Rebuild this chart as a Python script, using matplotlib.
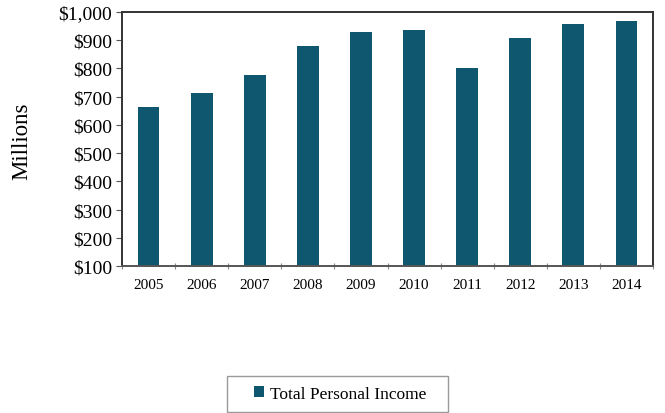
import numpy as np
import matplotlib.pyplot as plt
from matplotlib.ticker import FuncFormatter
from matplotlib.patches import Rectangle

plt.rcParams['font.family'] = ['Liberation Serif', 'DejaVu Serif']

years = ["2005", "2006", "2007", "2008", "2009", "2010", "2011", "2012", "2013", "2014"]
income = [663, 713, 777, 880, 928, 935, 800, 909, 956, 969]  # millions of dollars

W, H = 665, 414
fig = plt.figure(figsize=(W / 100, H / 100), dpi=100)
ax = fig.add_axes([122 / W, 1 - 267 / H, (653 - 122) / W, (267 - 13) / H])

x = np.arange(len(years))
ax.bar(x, income, width=0.41, color="#0f566f", label="Total Personal Income", zorder=2)

ax.set_xlim(-0.5, len(years) - 0.5)
ax.set_ylim(100, 1000)
ax.set_yticks(np.arange(100, 1001, 100))
ax.yaxis.set_major_formatter(FuncFormatter(lambda v, p: "${:,.0f}".format(v)))
ax.tick_params(axis="y", labelsize=14, length=4, width=0.8, color="#555555", pad=3)

ax.set_xticks(x)
ax.set_xticklabels(years)
ax.set_xticks(np.arange(-0.5, len(years), 1), minor=True)
ax.tick_params(axis="x", which="major", length=0, labelsize=11, pad=9)
ax.tick_params(axis="x", which="minor", length=4, width=0.8, color="#888888", direction="inout")

for s in ax.spines.values():
    s.set_color("#333333")
    s.set_linewidth(1.4)
ax.spines["bottom"].set_color("#555555")

fig.text(22 / W, 1 - 141 / H, "Millions", rotation=90, fontsize=16.5, ha="center", va="center")

# legend box drawn separately to get the wide, flat frame
fig.patches.append(Rectangle((227 / W, 1 - 413 / H), (448 - 227) / W, (413 - 377) / H,
                             transform=fig.transFigure, facecolor="white",
                             edgecolor="#999999", linewidth=1.0))
fig.legend(loc="center", bbox_to_anchor=(340 / W, 1 - 395 / H), fontsize=12.5,
           frameon=False, handlelength=0.6, handleheight=0.6, handletextpad=0.3,
           borderpad=0, borderaxespad=0)

fig.savefig("out.png", dpi=100)
